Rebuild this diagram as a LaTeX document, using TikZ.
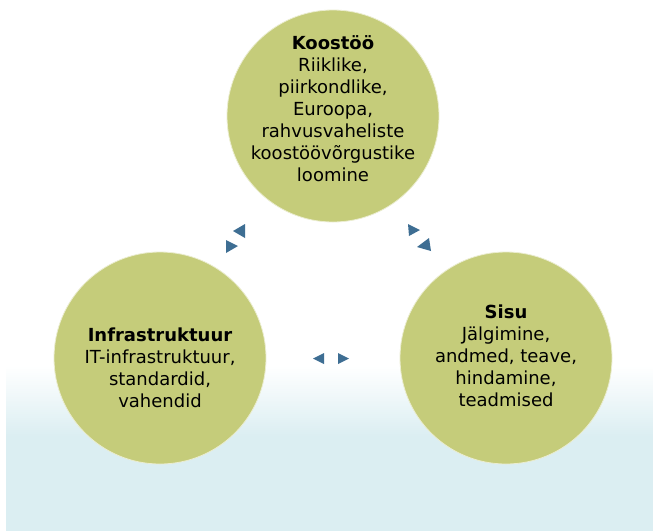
\documentclass[tikz,border=0pt]{standalone}
\usepackage{fontspec}
\setmainfont{DejaVu Sans}
\usepackage{tikz}
\definecolor{olivecircle}{RGB}{197,204,122}
\definecolor{arrowblue}{RGB}{62,110,147}
\definecolor{bgcyan}{RGB}{219,238,242}

\begin{document}
\begin{tikzpicture}[x=1pt, y=-1pt]
	\useasboundingbox (0,0) rectangle (653,531);
	\fill[white] (0,0) rectangle (653,531);
	% background panel
	\shade[top color=white, bottom color=bgcyan] (6,366) rectangle (653,436);
	\fill[bgcyan] (6,436) rectangle (653,531);

	\begin{scope}[every node/.style={circle, fill=olivecircle, draw=white!65!olivecircle, line width=0.8pt, minimum size=212pt, inner sep=0}]
	\node (koos) at (333,116) {};
	\node (infra) at (160,358) {};
	\node (sisu) at (506,358) {};
	\end{scope}

	\begin{scope}[every node/.style={align=center, font=\fontsize{18}{22}\selectfont, inner sep=0}]
	\node (koostxt) at (333,109) {\textbf{Koostöö}\\Riiklike,\\piirkondlike,\\Euroopa,\\rahvusvaheliste\\koostöövõrgustike\\loomine};
	\node (infratxt) at (160,368) {\textbf{Infrastruktuur}\\IT-infrastruktuur,\\standardid,\\vahendid};
	\node (sisutxt) at (506,356) {\textbf{Sisu}\\Jälgimine,\\andmed, teave,\\hindamine,\\teadmised};
	\end{scope}

	% arrow heads between the circles
	\fill[arrowblue] (233,231) -- (245,224) -- (245,238) -- cycle;
	\fill[arrowblue] (238,246) -- (226,240) -- (226,253) -- cycle;

	\fill[arrowblue] (420,230) -- (408,224) -- (409,236) -- cycle;
	\fill[arrowblue] (417,247) -- (429,238) -- (431,251) -- cycle;

	\fill[arrowblue] (313,358.5) -- (324,353) -- (324,364) -- cycle;
	\fill[arrowblue] (349,358.5) -- (338,353) -- (338,364) -- cycle;
\end{tikzpicture}
\end{document}
